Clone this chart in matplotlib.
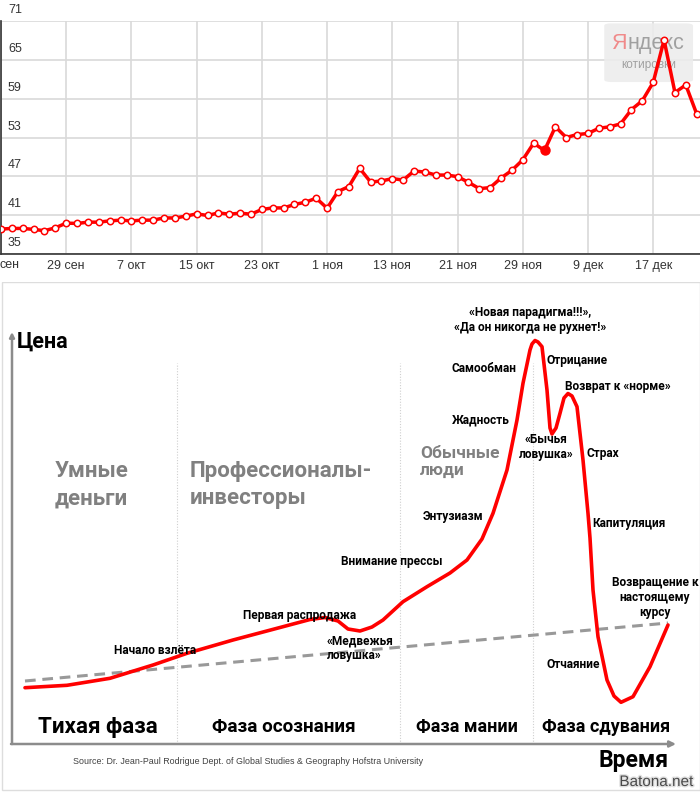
import matplotlib
matplotlib.use("Agg")
import matplotlib.pyplot as plt
from matplotlib.patches import FancyBboxPatch, Rectangle
from matplotlib import transforms
import matplotlib.patheffects as pe

plt.rcParams['font.family'] = ['Roboto', 'DejaVu Sans']

# --- top chart: USD/RUB quotes, one point per trading day
usd_rub = [38.85, 38.95, 38.95, 38.80, 38.60, 39.05, 39.77, 39.72, 39.92, 39.92,
           40.12, 40.23, 40.12, 40.23, 40.23, 40.58, 40.56, 40.85, 41.20, 40.95,
           41.35, 41.15, 41.31, 41.15, 41.88, 42.12, 42.12, 42.65, 43.00, 43.62,
           42.08, 44.65, 45.42, 48.23, 46.12, 46.28, 46.65, 46.43, 47.82, 47.66,
           47.20, 47.20, 46.95, 46.08, 45.10, 45.26, 46.74, 47.92, 49.55, 52.12,
           51.00, 54.65, 53.00, 53.46, 53.62, 54.43, 54.65, 55.11, 57.31, 58.69,
           61.51, 68.08, 59.95, 61.12, 56.65]
hover_idx = 50
date_ticks = [0, 6, 12, 18, 24, 30, 36, 42, 48, 54, 60]
date_labels = ['сен', '29 сен', '7 окт', '15 окт', '23 окт', '1 ноя',
               '13 ноя', '21 ноя', '29 ноя', '9 дек', '17 дек']
price_ticks = [35, 41, 47, 53, 59, 65, 71]

# --- bottom chart: stages of a bubble (schematic)
bubble_time = [25, 67, 110, 153, 187, 233, 283, 310, 325, 338,
               348, 360, 372, 383, 403, 427, 450, 467, 482, 493,
               507, 517, 523, 530, 532, 535, 538, 542, 547, 550,
               552, 556, 560, 564, 568, 572, 577, 583, 588, 590,
               593, 598, 607, 614, 621, 633, 650, 668]
bubble_price = [56.3, 58.7, 65.7, 79, 90.7, 104, 117.3, 124.5, 126.5, 123,
                115, 113, 117, 124, 142.3, 157.3, 171, 184, 205, 230.7,
                274, 324, 360.7, 394, 400, 403.5, 402, 397.3, 354, 316,
                310, 316, 330.7, 346, 350.5, 348, 337.3, 284, 230.7, 206,
                154, 107.3, 64, 48, 41.7, 47.3, 77.3, 119]
trend_time = [25, 668]
trend_price = [63, 121]
phase_bounds = [177, 400, 533]

W, H = 700, 798
fig = plt.figure(figsize=(W / 100, H / 100), dpi=100)

# ================= top chart =================
ax1 = fig.add_axes([1 / W, 1 - 254 / H, 699 / W, 233 / H])
ax1.set_xlim(0, 699 / 10.87)
ax1.set_ylim(35, 71)
xs = list(range(len(usd_rub)))
ax1.plot(xs, usd_rub, color='#ff0000', lw=2.5, marker='o', ms=4.6,
         mfc='white', mec='#ff0000', mew=1.1, zorder=5, solid_joinstyle='round')
ax1.plot([hover_idx], [usd_rub[hover_idx]], 'o', color='#ff0000', ms=6.5, zorder=6)

ax1.set_yticks(price_ticks)
ax1.set_yticklabels([])
ax1.set_xticks(date_ticks)
ax1.set_xticklabels([''] + date_labels[1:], fontsize=9, color='#333333', family='Liberation Sans')
ax1.tick_params(axis='both', length=0)
ax1.tick_params(axis='x', pad=4)
ax1.grid(True, color='#d9d9d9', lw=1.2)
ax1.set_axisbelow(True)
for s in ['top', 'right']:
    ax1.spines[s].set_visible(False)
ax1.spines['left'].set_color('#333333')
ax1.spines['bottom'].set_color('#333333')
ax1.spines['left'].set_linewidth(1.2)
ax1.spines['bottom'].set_linewidth(1.2)

# first date label is cut by the left edge in the original, only "сен" shows
first_tr = transforms.offset_copy(ax1.get_xaxis_transform(), fig=fig, x=-1, y=-11, units='dots')
ax1.text(date_ticks[0], 0, date_labels[0], transform=first_tr, fontsize=9, color='#333333',
         family='Liberation Sans', ha='left', va='center')

lab_tr = transforms.offset_copy(ax1.get_yaxis_transform(), fig=fig, x=0, y=11, units='dots')
for v in price_ticks:
    ax1.text(0.01, v, str(v), transform=lab_tr, fontsize=9, color='#333333',
             family='Liberation Sans', va='center', ha='left')

# yandex watermark
ax1.add_patch(FancyBboxPatch((0.863, 0.738), 0.127, 0.252, boxstyle='round,pad=0,rounding_size=0.01',
                             transform=ax1.transAxes, fc='#ececec', ec='none', alpha=0.85, zorder=1))
ax1.text(0.896, 0.905, 'Я', transform=ax1.transAxes, fontsize=15.5, color='#f08a8a',
         family='Liberation Sans', ha='right', va='center', zorder=2)
ax1.text(0.896, 0.905, 'ндекс', transform=ax1.transAxes, fontsize=15.5, color='#a0a0a0',
         family='Liberation Sans', ha='left', va='center', zorder=2)
ax1.text(0.926, 0.81, 'котировки', transform=ax1.transAxes, fontsize=8.5, color='#a0a0a0',
         family='Liberation Sans', ha='center', va='center', zorder=2)

# ================= bottom chart =================
ax2 = fig.add_axes([0, 0, 1, (H - 282) / H])
ax2.set_xlim(0, 700)
ax2.set_ylim(-54, 462)
ax2.axis('off')

ax2.add_patch(Rectangle((2, -46), 698, 508, fc='none', ec='#dddddd', lw=1))
ax2.vlines(phase_bounds, 0, 381, colors='#cfcfcf', lw=0.8, linestyles=(0, (1, 1.5)))

ax2.annotate('', xy=(12, 412), xytext=(12, 0),
             arrowprops=dict(arrowstyle='-|>', color='#8c8c8c', lw=1.8, mutation_scale=7, shrinkA=0, shrinkB=0))
ax2.annotate('', xy=(676, 0), xytext=(11, 0),
             arrowprops=dict(arrowstyle='-|>', color='#8c8c8c', lw=1.8, mutation_scale=9, shrinkA=0, shrinkB=0))

ax2.plot(trend_time, trend_price, color='#999999', lw=2.2, dashes=(3.5, 2.2))
ax2.plot(bubble_time, bubble_price, color='#ff0000', lw=2.6, solid_joinstyle='round',
         solid_capstyle='round')

ax2.text(17, 402.3, 'Цена', fontsize=15.5, fontweight='bold', ha='left', va='center')
ax2.text(598, -16, 'Время', fontsize=16.5, fontweight='bold', ha='left', va='center')

grey = '#808080'
ax2.text(55, 259.5, 'Умные\nденьги', fontsize=16, fontweight='bold', color=grey,
         ha='left', va='center', linespacing=1.3)
ax2.text(190, 259.5, 'Профессионалы-\nинвесторы', fontsize=16, fontweight='bold', color=grey,
         ha='left', va='center', linespacing=1.3)
ax2.text(420, 281.8, 'Обычные\nлюди', fontsize=12.5, fontweight='bold', color=grey,
         ha='left', va='center', linespacing=1.2)

small = dict(fontsize=8.6, fontweight='bold', color='black', va='center')
ax2.text(530, 424, '«Новая парадигма!!!»,\n«Да он никогда не рухнет!»', ha='center',
         multialignment='center', linespacing=1.15, **small)
ax2.text(451.7, 375.7, 'Самообман', ha='left', **small)
ax2.text(546.7, 383.3, 'Отрицание', ha='left', **small)
ax2.text(565, 357.3, 'Возврат к «норме»', ha='left', **small)
ax2.text(451.7, 324, 'Жадность', ha='left', **small)
ax2.text(546, 297.3, '«Бычья\nловушка»', ha='center', multialignment='center',
         linespacing=1.2, **small)
ax2.text(586.7, 290.7, 'Страх', ha='left', **small)
ax2.text(422.7, 227.3, 'Энтузиазм', ha='left', **small)
ax2.text(592.7, 220, 'Капитуляция', ha='left', **small)
ax2.text(341, 182.3, 'Внимание прессы', ha='left', **small)
ax2.text(243.3, 128.3, 'Первая распродажа', ha='left', **small)
ax2.text(326.7, 95.7, '«Медвежья\nловушка»', ha='left', multialignment='left',
         linespacing=1.2, **small)
ax2.text(114.3, 93, 'Начало взлёта', ha='left', **small)
ax2.text(655, 146.7, 'Возвращение к\nнастоящему\nкурсу', ha='center', multialignment='center',
         linespacing=1.2, **small)
ax2.text(546.7, 79.7, 'Отчаяние', ha='left', **small)

ax2.text(38.3, 16.7, 'Тихая фаза', fontsize=16, fontweight='bold', ha='left', va='center')
ax2.text(211.7, 17, 'Фаза осознания', fontsize=13.6, fontweight='bold', ha='left', va='center')
ax2.text(416, 17, 'Фаза мании', fontsize=13, fontweight='bold', ha='left', va='center')
ax2.text(541.7, 17, 'Фаза сдувания', fontsize=13, fontweight='bold', ha='left', va='center')

ax2.text(73, -18, 'Source: Dr. Jean-Paul Rodrigue Dept. of Global Studies & Geography Hofstra University',
         fontsize=6.4, color='#404040', family='Liberation Sans', ha='left', va='center')
ax2.text(693, -38, 'Batona.net', fontsize=11, color='#4a4a4a', family='Liberation Sans',
         ha='right', va='center',
         path_effects=[pe.withStroke(linewidth=2, foreground='#e0e0e0')])

fig.savefig('out.png', dpi=100)
